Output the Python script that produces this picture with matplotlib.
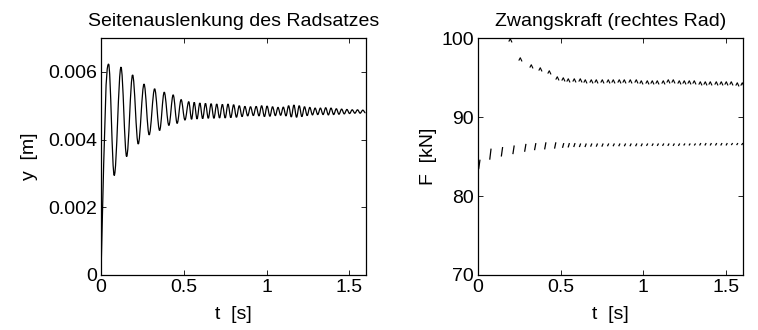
import matplotlib
matplotlib.use("Agg")
import matplotlib.pyplot as plt
import numpy as np
from matplotlib.path import Path
from matplotlib.patches import PathPatch
from matplotlib.collections import LineCollection

plt.rcParams['font.family'] = ['Liberation Sans', 'DejaVu Sans']
plt.rcParams['font.size'] = 14

# Seitenauslenkung: Extremwerte der Schwingung (t in s, y in mm)
start_t = [0.0]
start_y = [0.0]
peak_t = [0.046, 0.121, 0.191, 0.260, 0.324, 0.382, 0.436, 0.484, 0.530,
          0.563, 0.597, 0.631, 0.665, 0.699, 0.733, 0.767, 0.801, 0.835,
          0.869, 0.903, 0.937, 0.970, 1.003, 1.036, 1.069, 1.101, 1.133,
          1.165, 1.197, 1.229, 1.261, 1.293, 1.325, 1.357, 1.389, 1.421,
          1.453, 1.485, 1.517, 1.549, 1.581]
peak_y = [6.23, 6.14, 5.91, 5.64, 5.50, 5.40, 5.32, 5.18, 5.12,
          5.10, 5.08, 5.07, 5.06, 5.05, 5.04, 5.05, 5.03, 5.00,
          4.98, 4.97, 4.98, 5.00, 4.99, 4.97, 4.95, 4.96, 5.00,
          5.02, 5.00, 4.97, 4.95, 4.93, 4.93, 4.94, 4.93, 4.91,
          4.90, 4.89, 4.88, 4.88, 4.87]
trough_t = [0.080, 0.155, 0.225, 0.291, 0.354, 0.410, 0.460, 0.507, 0.547,
            0.580, 0.614, 0.648, 0.682, 0.716, 0.750, 0.784, 0.818, 0.852,
            0.886, 0.920, 0.954, 0.987, 1.020, 1.053, 1.085, 1.117, 1.149,
            1.181, 1.213, 1.245, 1.277, 1.309, 1.341, 1.373, 1.405, 1.437,
            1.469, 1.501, 1.533, 1.565, 1.597]
trough_y = [2.94, 3.50, 3.87, 4.14, 4.27, 4.42, 4.48, 4.58, 4.60,
            4.61, 4.62, 4.63, 4.63, 4.64, 4.64, 4.65, 4.66, 4.68,
            4.70, 4.71, 4.70, 4.68, 4.69, 4.71, 4.72, 4.70, 4.67,
            4.66, 4.68, 4.71, 4.73, 4.74, 4.74, 4.73, 4.74, 4.75,
            4.76, 4.77, 4.78, 4.78, 4.79]

# Zwangskraft: obere und untere Kraftniveaus (kN)
upper_t = [0.195, 0.253, 0.320, 0.376, 0.431, 0.477, 0.512, 0.546, 0.580,
           0.614, 0.648, 0.682, 0.716, 0.750, 0.784, 0.818, 0.852, 0.886,
           0.920, 0.954, 0.987, 1.020, 1.053, 1.085, 1.117, 1.149, 1.181,
           1.213, 1.245, 1.277, 1.309, 1.341, 1.373, 1.405, 1.437, 1.469,
           1.501, 1.533, 1.565, 1.597]
upper_F = [99.8, 97.3, 96.5, 96.1, 95.7, 95.0, 94.8, 94.75, 94.7,
           94.65, 94.6, 94.6, 94.6, 94.55, 94.55, 94.5, 94.55, 94.55,
           94.5, 94.5, 94.45, 94.45, 94.4, 94.4, 94.45, 94.5, 94.5,
           94.45, 94.4, 94.4, 94.4, 94.35, 94.35, 94.3, 94.3, 94.3,
           94.25, 94.25, 94.2, 94.2]
lower_t = [0.008, 0.075, 0.145, 0.215, 0.286, 0.346, 0.407, 0.467, 0.515,
           0.549, 0.583, 0.617, 0.651, 0.685, 0.719, 0.753, 0.787, 0.821,
           0.855, 0.889, 0.923, 0.957, 0.990, 1.023, 1.056, 1.088, 1.120,
           1.152, 1.184, 1.216, 1.248, 1.280, 1.312, 1.344, 1.376, 1.408,
           1.440, 1.472, 1.504, 1.536, 1.568, 1.598]
lower_lo = [83.4, 84.6, 85.0, 85.3, 85.6, 85.8, 85.9, 86.0, 86.1,
            86.15, 86.2, 86.2, 86.2, 86.25, 86.25, 86.25, 86.3, 86.3,
            86.3, 86.3, 86.3, 86.3, 86.3, 86.35, 86.35, 86.35, 86.35,
            86.35, 86.35, 86.35, 86.4, 86.4, 86.4, 86.4, 86.4, 86.4,
            86.4, 86.4, 86.4, 86.45, 86.45, 86.45]
lower_hi = [84.6, 86.0, 86.2, 86.4, 86.6, 86.7, 86.8, 86.8, 86.7,
            86.7, 86.7, 86.65, 86.65, 86.65, 86.65, 86.65, 86.65, 86.65,
            86.65, 86.65, 86.65, 86.65, 86.65, 86.65, 86.65, 86.65, 86.65,
            86.65, 86.65, 86.65, 86.65, 86.65, 86.65, 86.7, 86.7, 86.7,
            86.7, 86.7, 86.7, 86.7, 86.7, 86.7]

fig = plt.figure(figsize=(7.58, 3.30), dpi=100)
ax1 = fig.add_axes([0.1332, 0.1667, 0.3496, 0.718])
ax2 = fig.add_axes([0.6306, 0.1667, 0.349, 0.718])

# Schwingung als glatte Kurve durch die Extremwerte
ext = sorted(zip(start_t + peak_t + trough_t,
                 start_y + [v * 1e-3 for v in peak_y] + [v * 1e-3 for v in trough_y]))
verts = [ext[0]]
codes = [Path.MOVETO]
k = 0.36
for i in range(1, len(ext)):
    t0, y0 = ext[i - 1]
    t1, y1 = ext[i]
    dt = t1 - t0
    if i == 1:
        c1 = (t0 + 0.55 * dt, y0 + 0.8 * (y1 - y0))
    else:
        c1 = (t0 + k * dt, y0)
    c2 = (t1 - k * dt, y1)
    verts += [c1, c2, (t1, y1)]
    codes += [Path.CURVE4] * 3
ax1.add_patch(PathPatch(Path(verts, codes), fill=False, lw=0.9, ec='k'))

ax1.set_xlim(0, 1.6)
ax1.set_ylim(0, 0.007)
ax1.set_xticks([0, 0.5, 1, 1.5])
ax1.set_xticklabels(['0', '0.5', '1', '1.5'])
ax1.set_yticks([0, 0.002, 0.004, 0.006])
ax1.set_yticklabels(['0', '0.002', '0.004', '0.006'])
ax1.set_title('Seitenauslenkung des Radsatzes', fontsize=14, pad=9)
ax1.set_xlabel('t  [s]', labelpad=7)
ax1.set_ylabel('y  [m]', labelpad=7)

# Zwangskraft
caret = Path([(-0.8, -0.5), (-0.1, 0.8), (0.7, -0.9)],
             [Path.MOVETO, Path.LINETO, Path.LINETO])
ax2.plot(upper_t, upper_F, linestyle='none', marker=caret, ms=2.8,
         mfc='none', mec='k', mew=0.8)
segs = [[(t - 0.004, lo), (t + 0.004, hi)]
        for t, lo, hi in zip(lower_t, lower_lo, lower_hi)]
ax2.add_collection(LineCollection(segs, colors='k', linewidths=0.9))

ax2.set_xlim(0, 1.6)
ax2.set_ylim(70, 100)
ax2.set_xticks([0, 0.5, 1, 1.5])
ax2.set_xticklabels(['0', '0.5', '1', '1.5'])
ax2.set_yticks([70, 80, 90, 100])
ax2.set_title('Zwangskraft (rechtes Rad)', fontsize=14, pad=9)
ax2.set_xlabel('t  [s]', labelpad=7)
ax2.set_ylabel('F  [kN]', labelpad=3)

for ax in (ax1, ax2):
    ax.tick_params(direction='in', length=3.5, width=0.6, top=True, right=True,
                   labelsize=14, pad=3)
    for s in ax.spines.values():
        s.set_linewidth(0.9)

fig.savefig('out.png', dpi=100)
